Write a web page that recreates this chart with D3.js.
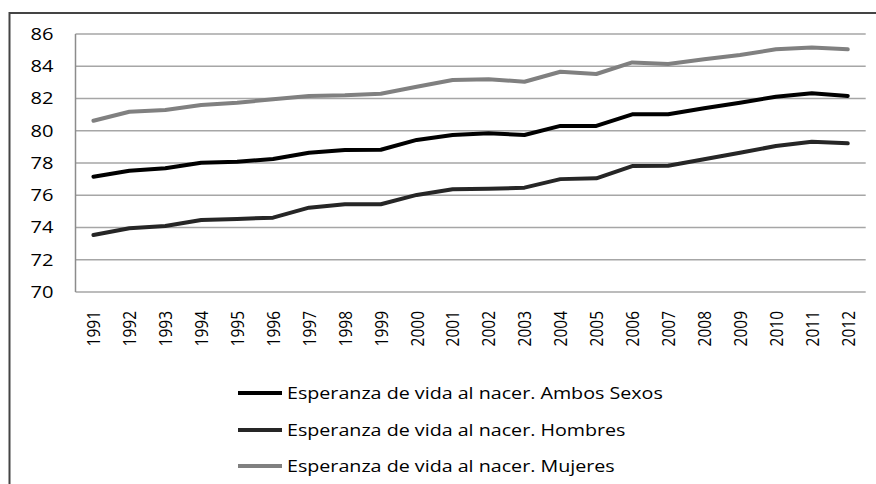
<!DOCTYPE html>
<html><head><meta charset="utf-8">
<script src="https://cdn.jsdelivr.net/npm/d3@7"></script>
<style>html,body{margin:0;padding:0;background:#fff;}svg{display:block;}</style>
</head><body>
<svg id="c" width="876" height="484"></svg>
<script>
const years = ["1991","1992","1993","1994","1995","1996","1997","1998","1999","2000","2001","2002","2003","2004","2005","2006","2007","2008","2009","2010","2011","2012"];
const ambos = [77.15,77.52,77.67,78.02,78.08,78.25,78.64,78.8,78.82,79.43,79.74,79.84,79.74,80.3,80.3,81.02,81.02,81.39,81.74,82.11,82.32,82.16];
const hombres = [73.53,73.95,74.09,74.47,74.53,74.61,75.23,75.44,75.44,76.02,76.37,76.4,76.47,77.0,77.05,77.81,77.83,78.23,78.64,79.05,79.32,79.22];
const mujeres = [80.62,81.18,81.29,81.6,81.74,81.95,82.15,82.2,82.3,82.73,83.15,83.19,83.04,83.66,83.52,84.24,84.14,84.43,84.7,85.05,85.17,85.05];
const yTicks = [70,72,74,76,78,80,82,84,86];
const seriesNames = ["Esperanza de vida al nacer. Ambos Sexos","Esperanza de vida al nacer. Hombres","Esperanza de vida al nacer. Mujeres"];

const series = [
  {name: seriesNames[0], values: ambos, color: "#000000"},
  {name: seriesNames[1], values: hombres, color: "#262626"},
  {name: seriesNames[2], values: mujeres, color: "#808080"}
];
const drawOrder = [series[2], series[1], series[0]];

const svg = d3.select("#c");
const font = "'Open Sans', sans-serif";
const SX = 1.22; // horizontal stretch of the reference's text

// outer frame
svg.append("rect").attr("x",9.5).attr("y",13).attr("width",900).attr("height",500)
  .attr("fill","none").attr("stroke","#444").attr("stroke-width",2);

const L = 75.5, R = 865.7, T = 34, B = 292;
const x = d3.scaleBand().domain(years).range([L, R]);
const y = d3.scaleLinear().domain([70, 86]).range([B, T]);

// gridlines
svg.append("g").selectAll("line").data(yTicks).join("line")
  .attr("x1", L).attr("x2", R)
  .attr("y1", d => y(d)).attr("y2", d => y(d))
  .attr("stroke", "#a6a6a6").attr("stroke-width", 1.5);

// left axis line
svg.append("line").attr("x1", L).attr("x2", L).attr("y1", T).attr("y2", B)
  .attr("stroke", "#8c8c8c").attr("stroke-width", 1.5);

// y labels
svg.append("g").selectAll("text").data(yTicks).join("text")
  .attr("transform", d => `translate(53.5,${y(d)}) scale(${SX},1)`)
  .attr("text-anchor", "end").attr("dy", "0.36em")
  .attr("font-family", font).attr("font-size", 16.5).attr("fill", "#000")
  .text(d => d);

// x labels
svg.append("g").selectAll("text").data(years).join("text")
  .attr("transform", d => `translate(${x(d) + x.bandwidth()/2},311) scale(${SX},1) rotate(-90)`)
  .attr("text-anchor", "end").attr("dy", "0.36em")
  .attr("font-family", font).attr("font-size", 15.5).attr("fill", "#000")
  .text(d => d);

// lines
const line = d3.line().x((d,i) => x(years[i]) + x.bandwidth()/2).y(d => y(d));
svg.append("g").selectAll("path").data(drawOrder).join("path")
  .attr("d", d => line(d.values))
  .attr("fill", "none").attr("stroke", d => d.color)
  .attr("stroke-width", 4).attr("stroke-linejoin", "round").attr("stroke-linecap","round");

// legend
const legY = [393, 430, 466];
const lg = svg.append("g").selectAll("g").data(series).join("g")
  .attr("transform", (d,i) => `translate(238,${legY[i]})`);
lg.append("line").attr("x1",0).attr("x2",44).attr("y1",0).attr("y2",0)
  .attr("stroke", d => d.color).attr("stroke-width", 4);
lg.append("text").attr("transform", `translate(49,0) scale(1.23,1)`).attr("dy","0.36em")
  .attr("font-family", font).attr("font-size", 16).attr("fill","#000")
  .text(d => d.name);
</script>
</body></html>
